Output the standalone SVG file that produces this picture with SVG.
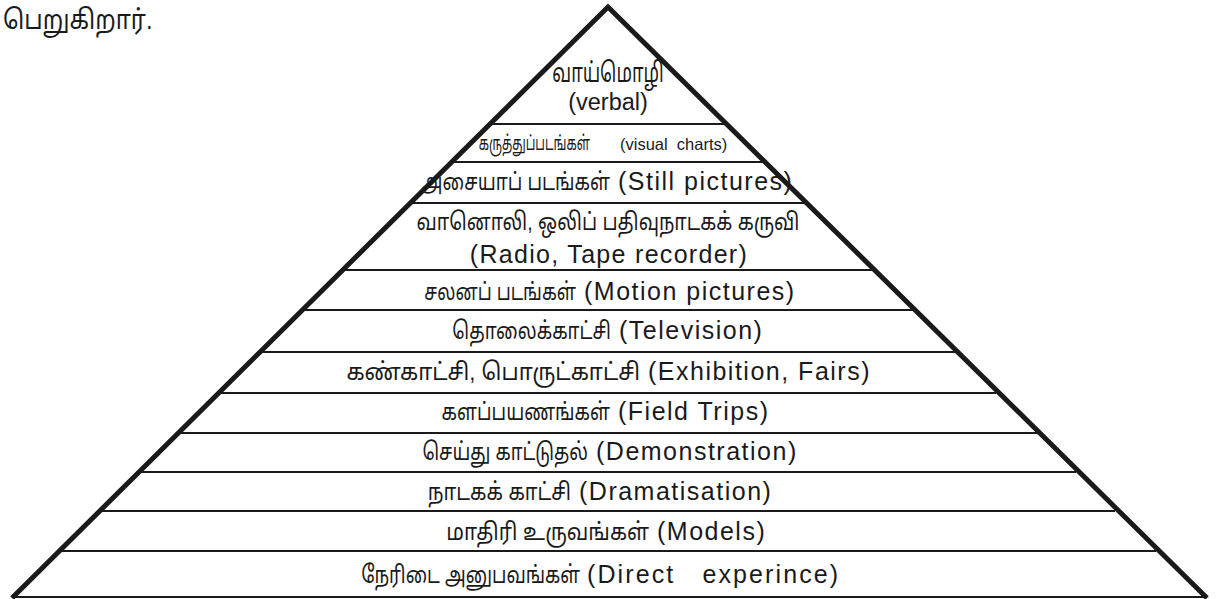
<svg xmlns="http://www.w3.org/2000/svg" width="1220" height="599" viewBox="0 0 1220 599">
<style>
text{font-family:"Liberation Sans","Noto Sans Tamil","Noto Sans",sans-serif;fill:#1a1a1a;white-space:pre}
.t{font-size:24px;text-anchor:end}
.tc{font-size:24px;text-anchor:middle}
.e{font-size:25px;letter-spacing:1.5px}
.side{stroke:#1a1a1a;stroke-width:5;fill:none;stroke-linejoin:miter}
.sep{stroke:#1a1a1a;stroke-width:2.2}
</style>
<rect width="1220" height="599" fill="#fff"/>
<text transform="translate(3,29) scale(0.875,1)" font-size="27">பெறுகிறார்.</text>
<g id="connectors">
<line class="sep" x1="491" y1="124" x2="725" y2="124"/>
<line class="sep" x1="452" y1="162" x2="764" y2="162"/>
<line class="sep" x1="411" y1="203" x2="805" y2="203"/>
<line class="sep" x1="344" y1="270" x2="872" y2="270"/>
<line class="sep" x1="303" y1="310" x2="913" y2="310"/>
<line class="sep" x1="261" y1="352" x2="955" y2="352"/>
<line class="sep" x1="220" y1="393" x2="996" y2="393"/>
<line class="sep" x1="179" y1="433" x2="1037" y2="433"/>
<line class="sep" x1="140" y1="472" x2="1076" y2="472"/>
<line class="sep" x1="101" y1="511" x2="1115" y2="511"/>
<line class="sep" x1="60" y1="551" x2="1156" y2="551"/>
<line class="sep" x1="12" y1="597" x2="1207" y2="597"/>
</g>
<g id="pyramid">
<polyline class="side" points="12,598 608,7 1207,598"/>
</g>
<g id="verbal"><text transform="translate(608,82) scale(0.67,1)" font-size="27" text-anchor="middle">வாய்மொழி</text><text x="608" y="110" font-size="23.5" text-anchor="middle">(verbal)</text></g>
<g id="charts"><text transform="translate(590,150) scale(0.62,1)" font-size="20" text-anchor="end">கருத்துப்படங்கள்</text><text x="620" y="150" font-size="16.5">(visual  charts)</text></g>
<g id="still"><text class="t" transform="translate(610,190) scale(0.78,1)">அசையாப் படங்கள்</text><text class="e" x="618" y="190">(Still pictures)</text></g>
<g id="radio"><text class="tc" transform="translate(608,230) scale(0.81,1)">வானொலி, ஒலிப் பதிவுநாடகக் கருவி</text><text x="609" y="263" font-size="25" letter-spacing="1.3" text-anchor="middle">(Radio, Tape recorder)</text></g>
<g id="motion"><text class="t" transform="translate(576,300) scale(0.75,1)">சலனப் படங்கள்</text><text class="e" x="584" y="300">(Motion pictures)</text></g>
<g id="tv"><text class="t" transform="translate(611,339) scale(0.78,1)">தொலைக்காட்சி</text><text class="e" x="619" y="339" letter-spacing="1.9">(Television)</text></g>
<g id="exhibition"><text class="t" transform="translate(640,380) scale(0.92,1)">கண்காட்சி, பொருட்காட்சி</text><text class="e" x="648" y="380">(Exhibition, Fairs)</text></g>
<g id="field"><text class="t" transform="translate(610,420) scale(0.78,1)">களப்பயணங்கள்</text><text class="e" x="618" y="420">(Field Trips)</text></g>
<g id="demo"><text class="t" transform="translate(588,460) scale(0.77,1)">செய்து காட்டுதல்</text><text class="e" x="596" y="460" letter-spacing="2.2">(Demonstration)</text></g>
<g id="drama"><text class="t" transform="translate(571,500) scale(0.83,1)">நாடகக் காட்சி</text><text class="e" x="579" y="500">(Dramatisation)</text></g>
<g id="models"><text class="t" transform="translate(649,540) scale(0.86,1)">மாதிரி உருவங்கள்</text><text class="e" x="657" y="540">(Models)</text></g>
<g id="direct"><text class="t" transform="translate(580,583) scale(0.77,1)">நேரிடை அனுபவங்கள்</text><text x="587" y="583" font-size="25" letter-spacing="2.1">(Direct   experince)</text></g>
</svg>
